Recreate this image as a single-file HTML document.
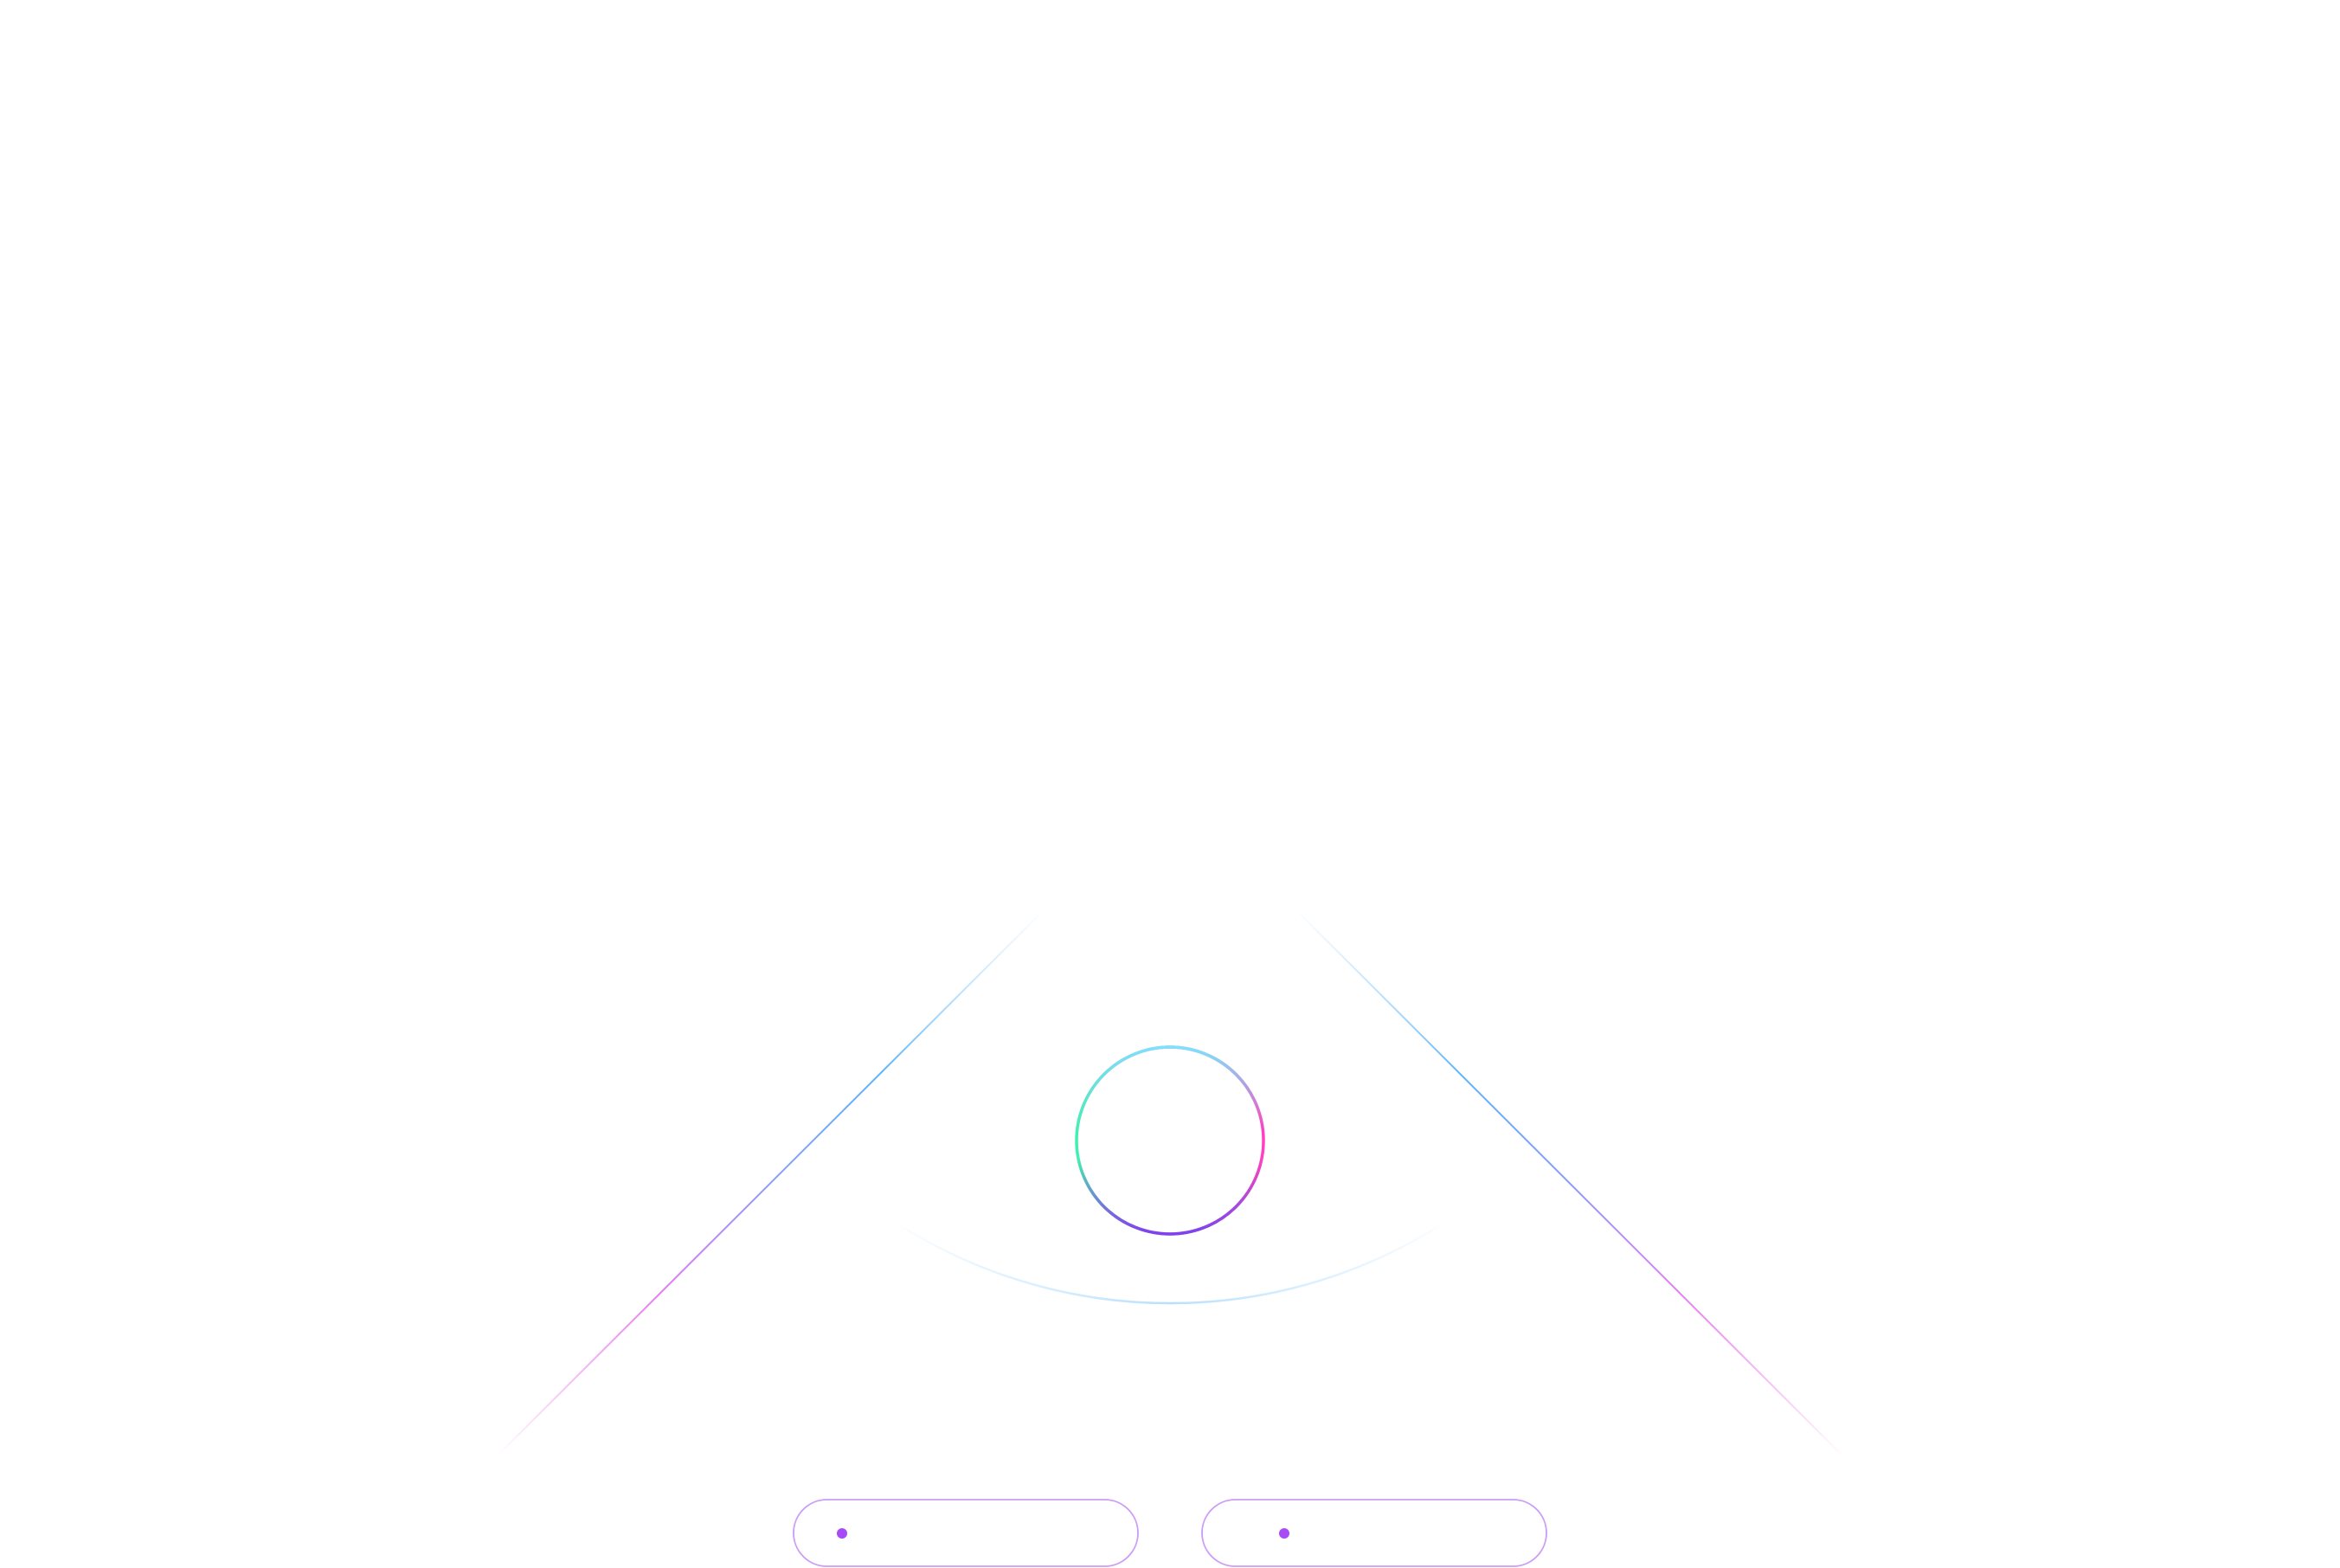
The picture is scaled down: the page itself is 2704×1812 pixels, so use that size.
<!DOCTYPE html>
<html>
<head>
<meta charset="utf-8">
<style>
html,body{margin:0;padding:0;background:#fff;}
svg{display:block;}
</style>
</head>
<body>
<svg width="2704" height="1812" viewBox="0 0 2704 1812" xmlns="http://www.w3.org/2000/svg">
<defs>
  <linearGradient id="lineL" gradientUnits="userSpaceOnUse" x1="574" y1="1683" x2="1209" y2="1049">
    <stop offset="0" stop-color="#f060e0" stop-opacity="0"/>
    <stop offset="0.3" stop-color="#e070f0" stop-opacity="0.9"/>
    <stop offset="0.5" stop-color="#8a9cf8" stop-opacity="1"/>
    <stop offset="0.7" stop-color="#60b4fa" stop-opacity="1"/>
    <stop offset="1" stop-color="#a0d8fc" stop-opacity="0"/>
  </linearGradient>
  <linearGradient id="lineR" gradientUnits="userSpaceOnUse" x1="2130" y1="1683" x2="1495" y2="1049">
    <stop offset="0" stop-color="#f060e0" stop-opacity="0"/>
    <stop offset="0.3" stop-color="#e070f0" stop-opacity="0.9"/>
    <stop offset="0.5" stop-color="#8a9cf8" stop-opacity="1"/>
    <stop offset="0.7" stop-color="#60b4fa" stop-opacity="1"/>
    <stop offset="1" stop-color="#a0d8fc" stop-opacity="0"/>
  </linearGradient>
  <linearGradient id="arcG" gradientUnits="userSpaceOnUse" x1="1026" y1="0" x2="1678" y2="0">
    <stop offset="0" stop-color="#b8e0fc" stop-opacity="0"/>
    <stop offset="0.5" stop-color="#b8e0fc" stop-opacity="1"/>
    <stop offset="1" stop-color="#b8e0fc" stop-opacity="0"/>
  </linearGradient>
  <linearGradient id="ringA" gradientUnits="userSpaceOnUse" x1="1244" y1="1318" x2="1460" y2="1318">
    <stop offset="0" stop-color="#40f0b0"/>
    <stop offset="1" stop-color="#ff40c0"/>
  </linearGradient>
  <linearGradient id="ringB" gradientUnits="userSpaceOnUse" x1="0" y1="1210" x2="0" y2="1426">
    <stop offset="0" stop-color="#80e0ff" stop-opacity="1"/>
    <stop offset="0.45" stop-color="#80e0ff" stop-opacity="0"/>
    <stop offset="0.6" stop-color="#8040f0" stop-opacity="0"/>
    <stop offset="1" stop-color="#8040f0" stop-opacity="1"/>
  </linearGradient>
</defs>

<line x1="574" y1="1683" x2="1209" y2="1049" stroke="url(#lineL)" stroke-width="2"/>
<line x1="2130" y1="1683" x2="1495" y2="1049" stroke="url(#lineR)" stroke-width="2"/>

<path d="M1026 1407 A586 586 0 0 0 1678 1407" fill="none" stroke="url(#arcG)" stroke-width="2.5"/>

<circle cx="1352" cy="1318" r="108" fill="none" stroke="url(#ringA)" stroke-width="3.5"/>
<circle cx="1352" cy="1318" r="108" fill="none" stroke="url(#ringB)" stroke-width="3.5"/>

<rect x="917" y="1733" width="398" height="77" rx="38.5" ry="38.5" fill="none" stroke="#cc9cf6" stroke-width="1.8"/>
<circle cx="973" cy="1772" r="6" fill="#a64bf6"/>
<rect x="1389" y="1733" width="398" height="77" rx="38.5" ry="38.5" fill="none" stroke="#cc9cf6" stroke-width="1.8"/>
<circle cx="1484" cy="1772" r="6" fill="#a64bf6"/>
</svg>
</body>
</html>
